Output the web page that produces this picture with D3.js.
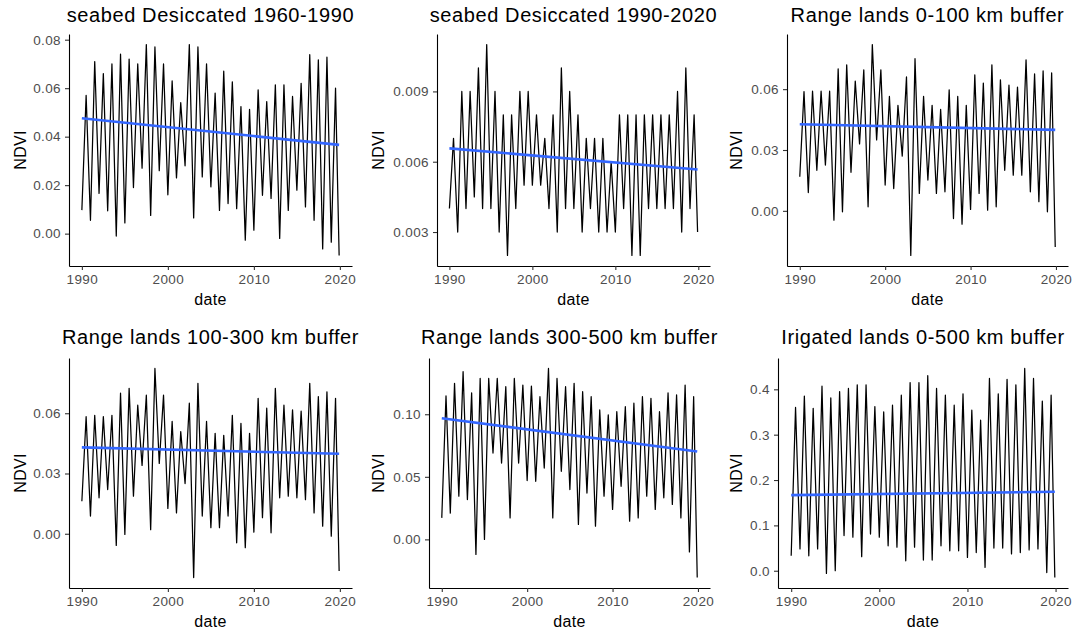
<!DOCTYPE html>
<html>
<head>
<meta charset="utf-8">
<script src="https://cdn.jsdelivr.net/npm/d3@7"></script>
<style>
  body { margin: 0; background: #ffffff; }
  text { font-family: "Liberation Sans", Arial, sans-serif; }
</style>
</head>
<body>
<svg id="chart" width="1074" height="633"></svg>
<script>
// ---------------- DATA ----------------
const years = [1990,1991,1992,1993,1994,1995,1996,1997,1998,1999,
               2000,2001,2002,2003,2004,2005,2006,2007,2008,2009,
               2010,2011,2012,2013,2014,2015,2016,2017,2018,2019];
const troughMonth = 0;   // seasonal minimum (January)
const peakMonth = 6;     // seasonal maximum (July)
const lastMonth = 11;    // final observation: December 2019

const titles = [
  "seabed Desiccated 1960-1990",
  "seabed Desiccated 1990-2020",
  "Range lands 0-100 km buffer",
  "Range lands 100-300 km buffer",
  "Range lands 300-500 km buffer",
  "Irigated lands 0-500 km buffer"
];

// yearly seasonal peaks (one per year) and troughs (start of each year + final)
const peaks1 = [0.057,0.071,0.066,0.070,0.074,0.072,0.070,0.078,0.077,0.070,
                0.063,0.054,0.078,0.077,0.070,0.058,0.067,0.0626,0.0524,0.0513,
                0.0593,0.0545,0.0614,0.0614,0.0566,0.062,0.0738,0.0717,0.0728,0.060];
const troughs1 = [0.0097,0.0055,0.0166,0.0094,-0.001,0.0044,0.019,0.027,0.0075,0.026,
                  0.016,0.023,0.028,0.0065,0.0234,0.0193,0.0096,0.0124,0.0103,-0.0027,
                  0.0014,0.0158,0.0145,-0.002,0.0096,0.0179,0.011,0.0055,-0.0063,-0.0035,-0.009];

const peaks2 = [0.007,0.009,0.009,0.010,0.011,0.009,0.008,0.008,0.009,0.009,
                0.008,0.007,0.008,0.010,0.009,0.008,0.007,0.007,0.007,0.006,
                0.008,0.008,0.008,0.008,0.008,0.008,0.008,0.009,0.010,0.008];
const troughs2 = [0.004,0.003,0.004,0.0045,0.004,0.004,0.003,0.002,0.004,0.005,
                  0.005,0.005,0.004,0.003,0.004,0.004,0.003,0.004,0.003,0.003,
                  0.003,0.004,0.002,0.002,0.004,0.004,0.004,0.004,0.003,0.004,0.003];

const peaks3 = [0.0588,0.059,0.059,0.059,0.070,0.072,0.064,0.0695,0.082,0.0695,
                0.0564,0.052,0.066,0.075,0.0564,0.052,0.050,0.0597,0.0564,0.052,
                0.067,0.063,0.072,0.0646,0.062,0.061,0.0745,0.0675,0.069,0.068];
const troughs3 = [0.0168,0.009,0.020,0.0226,-0.0046,-0.0005,0.019,0.033,0.002,0.035,
                  0.0127,0.011,0.027,-0.022,0.0086,0.0152,0.0086,0.0094,-0.0038,-0.0066,
                  0.0007,0.0086,0.0003,0.002,0.020,0.0176,0.0176,0.0094,0.0045,-0.0005,-0.0178];

const peaks4 = [0.0583,0.059,0.0583,0.059,0.070,0.0724,0.064,0.069,0.0823,0.069,
                0.0559,0.0509,0.065,0.0749,0.0559,0.050,0.049,0.059,0.055,0.050,
                0.0674,0.0625,0.0724,0.064,0.0617,0.061,0.0749,0.0683,0.0707,0.0674];
const troughs4 = [0.0162,0.0088,0.0179,0.022,-0.0058,-0.0003,0.0187,0.034,0.002,0.035,
                  0.0126,0.0104,0.025,-0.0218,0.0088,0.003,0.003,0.0088,-0.0045,-0.0069,
                  0.0008,0.008,0.0005,0.0179,0.0187,0.0179,0.017,0.0104,0.0038,-0.0012,-0.0185];

const peaks5 = [0.1146,0.1247,0.134,0.117,0.1286,0.1286,0.1286,0.122,0.1286,0.1233,
                0.1225,0.114,0.1366,0.1286,0.122,0.1247,0.118,0.114,0.1034,0.0995,
                0.102,0.106,0.1088,0.114,0.1127,0.102,0.117,0.1154,0.1233,0.114];
const troughs5 = [0.0172,0.021,0.0345,0.0318,-0.012,0.000,0.069,0.061,0.0172,0.061,
                  0.047,0.0464,0.057,0.0172,0.0544,0.0398,0.012,0.037,0.0106,0.0345,
                  0.0239,0.0424,0.0146,0.0172,0.0345,0.0239,0.0332,0.0279,0.0172,-0.010,-0.0305];

const peaks6 = [0.36,0.385,0.358,0.407,0.381,0.395,0.402,0.41,0.41,0.362,
                0.35,0.365,0.387,0.415,0.415,0.43,0.402,0.387,0.365,0.39,
                0.354,0.332,0.424,0.39,0.422,0.41,0.446,0.424,0.374,0.387];
const troughs6 = [0.033,0.048,0.033,0.048,-0.006,0.000,0.0775,0.074,0.031,0.081,
                  0.074,0.055,0.052,0.022,0.052,0.0236,0.0236,0.055,0.044,0.044,
                  0.0295,0.04,0.0074,0.05,0.05,0.037,0.04,0.046,0.048,-0.004,-0.015];

// linear trend (geom_smooth lm) start / end values
const trendStart = [0.0476, 0.00657, 0.0427, 0.0430, 0.0968, 0.1668];
const trendEnd   = [0.0366, 0.00567, 0.0399, 0.0398, 0.0703, 0.1740];

// tick values and labels
const xTicks = [1990, 2000, 2010, 2020];
const yTicks1 = [0.00, 0.02, 0.04, 0.06, 0.08];
const yTicks2 = [0.003, 0.006, 0.009];
const yTicks3 = [0.00, 0.03, 0.06];
const yTicks4 = [0.00, 0.03, 0.06];
const yTicks5 = [0.00, 0.05, 0.10];
const yTicks6 = [0.0, 0.1, 0.2, 0.3, 0.4];
const yFormats = [".2f", ".3f", ".2f", ".2f", ".2f", ".1f"];

// ---------------- LAYOUT ----------------
const layout = [
  {cx: 0,   left: 69,  right: 352,  top: 34,  bottom: 266, titleY: 22, dateY: 305},
  {cx: 358, left: 437, right: 710,  top: 34,  bottom: 266, titleY: 22, dateY: 305},
  {cx: 716, left: 787, right: 1068, top: 34,  bottom: 266, titleY: 22, dateY: 305},
  {cx: 0,   left: 69,  right: 352,  top: 358, bottom: 588, titleY: 344, dateY: 627},
  {cx: 358, left: 429, right: 710,  top: 358, bottom: 588, titleY: 344, dateY: 627},
  {cx: 716, left: 778, right: 1068, top: 358, bottom: 588, titleY: 344, dateY: 627}
];

const peaksAll = [peaks1, peaks2, peaks3, peaks4, peaks5, peaks6];
const troughsAll = [troughs1, troughs2, troughs3, troughs4, troughs5, troughs6];
const yTicksAll = [yTicks1, yTicks2, yTicks3, yTicks4, yTicks5, yTicks6];

const svg = d3.select("#chart");
svg.append("rect").attr("width", 1074).attr("height", 633).attr("fill", "#ffffff");

function expand(ext, f) {
  const d = ext[1] - ext[0];
  return [ext[0] - d * f, ext[1] + d * f];
}

layout.forEach((L, p) => {
  const series = [];
  years.forEach((yr, i) => {
    series.push({date: new Date(yr, troughMonth, 1), v: troughsAll[p][i]});
    series.push({date: new Date(yr, peakMonth, 1), v: peaksAll[p][i]});
  });
  series.push({date: new Date(years[years.length - 1], lastMonth, 1),
               v: troughsAll[p][troughsAll[p].length - 1]});

  const tExt = d3.extent(series, d => +d.date);
  const xd = expand(tExt, 0.05);
  const x = d3.scaleTime().domain([new Date(xd[0]), new Date(xd[1])]).range([L.left, L.right]);
  const yd = expand(d3.extent(series, d => d.v), 0.05);
  const y = d3.scaleLinear().domain(yd).range([L.bottom, L.top]);

  const g = svg.append("g");

  // series line
  g.append("path")
    .datum(series)
    .attr("fill", "none")
    .attr("stroke", "#000000")
    .attr("stroke-width", 1.25)
    .attr("stroke-linejoin", "round")
    .attr("d", d3.line().x(d => x(d.date)).y(d => y(d.v)));

  // trend line
  const trend = [
    {date: series[0].date, v: trendStart[p]},
    {date: series[series.length - 1].date, v: trendEnd[p]}
  ];
  g.append("path")
    .datum(trend)
    .attr("fill", "none")
    .attr("stroke", "#3366FF")
    .attr("stroke-width", 2.6)
    .attr("d", d3.line().x(d => x(d.date)).y(d => y(d.v)));

  // axes
  const xAxis = d3.axisBottom(x)
    .tickValues(xTicks.map(t => new Date(t, 0, 1)))
    .tickFormat(d3.timeFormat("%Y"))
    .tickSizeOuter(0).tickSizeInner(4).tickPadding(4);
  const gx = g.append("g").attr("transform", `translate(0,${L.bottom})`).call(xAxis);

  const yAxis = d3.axisLeft(y)
    .tickValues(yTicksAll[p])
    .tickFormat(d3.format(yFormats[p]))
    .tickSizeOuter(0).tickSizeInner(4).tickPadding(4);
  const gy = g.append("g").attr("transform", `translate(${L.left},0)`).call(yAxis);

  [gx, gy].forEach(ax => {
    ax.select(".domain").attr("stroke", "#000000").attr("stroke-width", 1.1);
    ax.selectAll(".tick line").attr("stroke", "#333333").attr("stroke-width", 1.1);
    ax.selectAll(".tick text")
      .attr("fill", "#4D4D4D")
      .style("font-size", "13.5px")
      .style("letter-spacing", "0.4px")
      .style("font-family", '"Liberation Sans", Arial, sans-serif');
  });

  // title
  g.append("text")
    .attr("x", (L.left + L.right) / 2)
    .attr("y", L.titleY)
    .attr("text-anchor", "middle")
    .attr("fill", "#000000")
    .style("font-size", "20px")
    .style("letter-spacing", "0.6px")
    .text(titles[p]);

  // axis titles
  g.append("text")
    .attr("x", (L.left + L.right) / 2)
    .attr("y", L.dateY)
    .attr("text-anchor", "middle")
    .attr("fill", "#000000")
    .style("font-size", "16px")
    .style("letter-spacing", "0.3px")
    .text("date");

  g.append("text")
    .attr("transform", `translate(${L.cx + 26},${(L.top + L.bottom) / 2}) rotate(-90)`)
    .attr("text-anchor", "middle")
    .attr("fill", "#000000")
    .style("font-size", "16px")
    .style("letter-spacing", "0.3px")
    .text("NDVI");
});
</script>
</body>
</html>
